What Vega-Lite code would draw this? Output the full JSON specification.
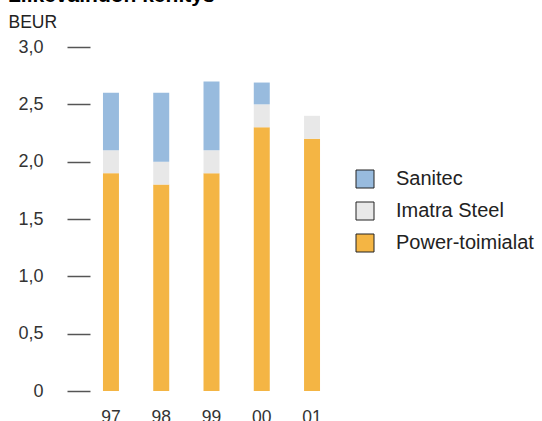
{
  "$schema": "https://vega.github.io/schema/vega-lite/v6.json",
  "autosize": "none",
  "width": 243,
  "height": 344,
  "padding": {"left": 90, "top": 47, "right": 209, "bottom": 30},
  "background": "white",
  "title": {
    "text": "Liikevaihdon kehitys",
    "anchor": "start",
    "frame": "group",
    "orient": "top",
    "baseline": "alphabetic",
    "offset": -10,
    "dx": -82,
    "font": "Liberation Sans",
    "fontSize": 21,
    "fontWeight": "bold",
    "color": "#000000"
  },
  "config": {
    "view": {"stroke": null},
    "font": "Liberation Sans"
  },
  "data": {
    "values": [
      {"year": "97", "segment": "Power-toimialat", "o": 1, "value": 1.9},
      {"year": "97", "segment": "Imatra Steel", "o": 2, "value": 0.2},
      {"year": "97", "segment": "Sanitec", "o": 3, "value": 0.5},
      {"year": "98", "segment": "Power-toimialat", "o": 1, "value": 1.8},
      {"year": "98", "segment": "Imatra Steel", "o": 2, "value": 0.2},
      {"year": "98", "segment": "Sanitec", "o": 3, "value": 0.6},
      {"year": "99", "segment": "Power-toimialat", "o": 1, "value": 1.9},
      {"year": "99", "segment": "Imatra Steel", "o": 2, "value": 0.2},
      {"year": "99", "segment": "Sanitec", "o": 3, "value": 0.6},
      {"year": "00", "segment": "Power-toimialat", "o": 1, "value": 2.3},
      {"year": "00", "segment": "Imatra Steel", "o": 2, "value": 0.2},
      {"year": "00", "segment": "Sanitec", "o": 3, "value": 0.19},
      {"year": "01", "segment": "Power-toimialat", "o": 1, "value": 2.2},
      {"year": "01", "segment": "Imatra Steel", "o": 2, "value": 0.2},
      {"year": "01", "segment": "Sanitec", "o": 3, "value": 0}
    ]
  },
  "mark": {"type": "bar"},
  "encoding": {
    "x": {
      "field": "year",
      "type": "ordinal",
      "scale": {"domain": ["97", "98", "99", "00", "01"], "paddingInner": 0.682, "paddingOuter": 0.258},
      "axis": {
        "title": null,
        "labelAngle": 0,
        "domain": false,
        "ticks": false,
        "labelPadding": 17,
        "labelFontSize": 17.5,
        "labelColor": "#333333"
      }
    },
    "y": {
      "field": "value",
      "type": "quantitative",
      "stack": "zero",
      "scale": {"domain": [0, 3], "nice": false},
      "axis": {
        "title": "BEUR",
        "titleAngle": 0,
        "titleAlign": "left",
        "titleBaseline": "alphabetic",
        "titleX": -82,
        "titleY": -20,
        "titleFontSize": 17.5,
        "titleFontWeight": "normal",
        "titleColor": "#222222",
        "values": [0, 0.5, 1, 1.5, 2, 2.5, 3],
        "labelExpr": "datum.value == 0 ? '0' : replace(format(datum.value, '.1f'), '.', ',')",
        "domain": false,
        "grid": false,
        "tickSize": 23,
        "tickColor": "#555555",
        "tickWidth": 1.5,
        "labelPadding": 24,
        "labelFontSize": 18,
        "labelColor": "#333333"
      }
    },
    "color": {
      "field": "segment",
      "type": "nominal",
      "scale": {
        "domain": ["Sanitec", "Imatra Steel", "Power-toimialat"],
        "range": ["#98bbde", "#e8e8e8", "#f4b544"]
      },
      "legend": {
        "title": null,
        "orient": "none",
        "legendX": 265,
        "legendY": 122,
        "symbolType": "square",
        "symbolSize": 324,
        "symbolStrokeColor": "#222222",
        "symbolStrokeWidth": 1,
        "symbolFillOpacity": 1,
        "labelFontSize": 20,
        "labelColor": "#222222",
        "labelOffset": 21,
        "rowPadding": 10
      }
    },
    "order": {"field": "o", "type": "quantitative"}
  }
}
